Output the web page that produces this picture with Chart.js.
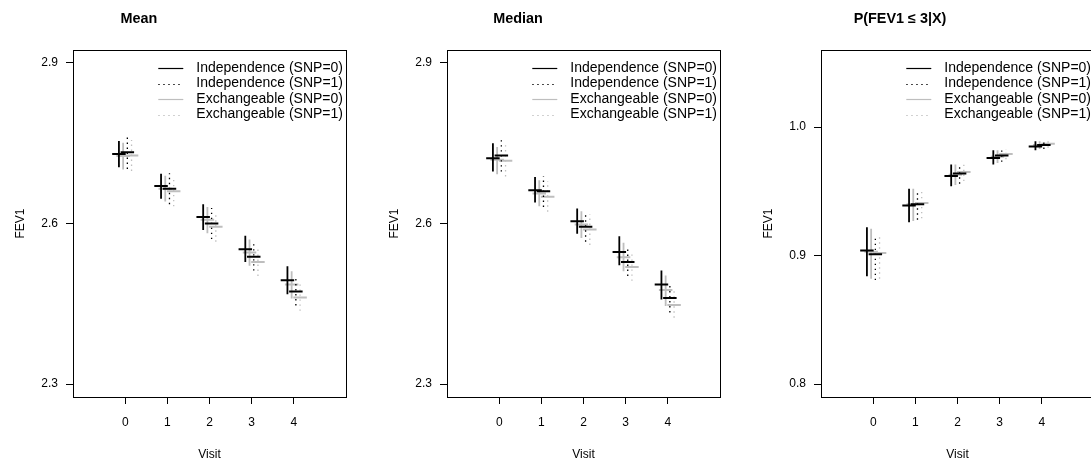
<!DOCTYPE html>
<html>
<head>
<meta charset="utf-8">
<script src="https://cdn.jsdelivr.net/npm/chart.js@4.4.1/dist/chart.umd.min.js"></script>
<style>
  html, body { margin: 0; padding: 0; background: #fff; }
  #wrap { position: relative; width: 1091px; height: 464px; overflow: hidden; background: #fff; }
  .panel { position: absolute; top: 0; width: 374px; height: 464px; }
</style>
</head>
<body>
<div id="wrap">
  <div class="panel" style="left:0px"><canvas id="pMean" width="374" height="464"></canvas></div>
  <div class="panel" style="left:374px"><canvas id="pMedian" width="374" height="464"></canvas></div>
  <div class="panel" style="left:748px"><canvas id="pProb" width="374" height="464"></canvas></div>
</div>
<script>
// ---- data ----
const visits = [0, 1, 2, 3, 4];
const seriesNames = ['Independence (SNP=0)', 'Independence (SNP=1)', 'Exchangeable (SNP=0)', 'Exchangeable (SNP=1)'];

// Mean FEV1: estimate with lower / upper limits
const meanIndep0 = [2.730, 2.670, 2.612, 2.552, 2.494];
const meanIndep0Lo = [2.705, 2.646, 2.588, 2.528, 2.468];
const meanIndep0Hi = [2.754, 2.693, 2.636, 2.577, 2.520];
const meanIndep1 = [2.733, 2.665, 2.600, 2.538, 2.473];
const meanIndep1Lo = [2.702, 2.636, 2.571, 2.512, 2.447];
const meanIndep1Hi = [2.763, 2.694, 2.629, 2.564, 2.499];
const meanExch0 = [2.726, 2.665, 2.607, 2.546, 2.486];
const meanExch0Lo = [2.701, 2.641, 2.582, 2.521, 2.460];
const meanExch0Hi = [2.751, 2.689, 2.631, 2.570, 2.511];
const meanExch1 = [2.727, 2.660, 2.594, 2.528, 2.462];
const meanExch1Lo = [2.698, 2.632, 2.566, 2.502, 2.437];
const meanExch1Hi = [2.756, 2.688, 2.622, 2.555, 2.488];

// Median FEV1
const medIndep0 = [2.722, 2.662, 2.604, 2.547, 2.486];
const medIndep0Lo = [2.697, 2.639, 2.581, 2.522, 2.458];
const medIndep0Hi = [2.750, 2.687, 2.628, 2.576, 2.512];
const medIndep1 = [2.727, 2.660, 2.594, 2.528, 2.461];
const medIndep1Lo = [2.697, 2.631, 2.566, 2.502, 2.434];
const medIndep1Hi = [2.757, 2.688, 2.622, 2.556, 2.485];
const medExch0 = [2.719, 2.656, 2.598, 2.537, 2.476];
const medExch0Lo = [2.692, 2.632, 2.573, 2.511, 2.446];
const medExch0Hi = [2.743, 2.681, 2.623, 2.564, 2.503];
const medExch1 = [2.717, 2.650, 2.589, 2.519, 2.448];
const medExch1Lo = [2.688, 2.622, 2.560, 2.493, 2.424];
const medExch1Hi = [2.746, 2.679, 2.617, 2.546, 2.474];

// P(FEV1 <= 3 | X)
const probIndep0 = [0.904, 0.939, 0.962, 0.976, 0.985];
const probIndep0Lo = [0.884, 0.926, 0.954, 0.971, 0.982];
const probIndep0Hi = [0.922, 0.952, 0.971, 0.982, 0.989];
const probIndep1 = [0.901, 0.940, 0.964, 0.978, 0.986];
const probIndep1Lo = [0.881, 0.928, 0.956, 0.973, 0.983];
const probIndep1Hi = [0.916, 0.951, 0.970, 0.982, 0.989];
const probExch0 = [0.903, 0.940, 0.963, 0.977, 0.986];
const probExch0Lo = [0.882, 0.927, 0.955, 0.972, 0.983];
const probExch0Hi = [0.921, 0.952, 0.971, 0.982, 0.989];
const probExch1 = [0.902, 0.941, 0.965, 0.979, 0.987];
const probExch1Lo = [0.882, 0.929, 0.958, 0.975, 0.984];
const probExch1Hi = [0.917, 0.952, 0.971, 0.983, 0.990];

const fevTicks = [2.3, 2.6, 2.9];
const probTicks = [0.8, 0.9, 1.0];

// ---- styling ----
const FONT = '"Liberation Sans", Arial, Helvetica, sans-serif';
const GREY = '#bebebe';
const DOT = [1.4, 3.6];
// horizontal position of each series around its visit
const seriesStyle = [
  { color: '#000', dash: [],  offset: -0.15 },  // Independence SNP=0
  { color: '#000', dash: DOT, offset: 0.05 },   // Independence SNP=1
  { color: GREY,   dash: [],  offset: -0.05 },  // Exchangeable SNP=0
  { color: GREY,   dash: DOT, offset: 0.15 }    // Exchangeable SNP=1
];
const HALF_TICK = 0.16;

function buildDatasets(series) {
  const ds = [];
  series.forEach((s, i) => {
    const st = seriesStyle[i];
    const ci = [], est = [];
    visits.forEach((v, k) => {
      const x = v + st.offset;
      ci.push({ x: x, y: s.lo[k] }, { x: x, y: s.hi[k] }, { x: x, y: null });
      est.push({ x: x - HALF_TICK, y: s.est[k] }, { x: x + HALF_TICK, y: s.est[k] }, { x: x, y: null });
    });
    ds.push({
      label: seriesNames[i], data: ci, showLine: true, spanGaps: false,
      borderColor: st.color, borderDash: st.dash, borderWidth: st.dash.length ? 1.3 : 1.8,
      borderCapStyle: 'butt', pointRadius: 0, pointHoverRadius: 0, fill: false
    });
    ds.push({
      label: seriesNames[i] + ' estimate', data: est, showLine: true, spanGaps: false,
      borderColor: st.color, borderWidth: 2, borderCapStyle: 'butt',
      pointRadius: 0, pointHoverRadius: 0, fill: false
    });
  });
  return ds;
}

// Closed frame around the plotting region
const frame = {
  id: 'frame',
  afterDraw(chart) {
    const { ctx, chartArea: a } = chart;
    ctx.save();
    ctx.strokeStyle = '#000';
    ctx.lineWidth = 1;
    ctx.strokeRect(Math.round(a.left) + 0.5, Math.round(a.top) + 0.5,
                   Math.round(a.right - a.left), Math.round(a.bottom - a.top));
    ctx.restore();
  }
};

// Panel heading
const heading = {
  id: 'heading',
  afterDraw(chart, args, opts) {
    const ctx = chart.ctx;
    ctx.save();
    ctx.fillStyle = '#000';
    ctx.font = 'bold 14.4px ' + FONT;
    ctx.textAlign = 'center';
    ctx.textBaseline = 'middle';
    ctx.fillText(opts.text, opts.x, opts.y);
    ctx.restore();
  }
};

// Borderless key in the top-right corner of the plotting region
const key = {
  id: 'key',
  afterDraw(chart, args, opts) {
    const { ctx, chartArea: a } = chart;
    const sets = chart.data.datasets.filter((d, i) => i % 2 === 0);
    ctx.save();
    ctx.font = opts.size + 'px ' + FONT;
    const maxW = Math.max(...sets.map(d => ctx.measureText(d.label).width));
    const textX = a.right - opts.rightGap - maxW;
    sets.forEach((d, i) => {
      const y = a.top + opts.firstRow + i * opts.rowGap;
      ctx.strokeStyle = d.borderColor;
      ctx.lineWidth = 1.2;
      ctx.setLineDash(d.borderDash);
      ctx.beginPath();
      ctx.moveTo(textX - opts.gap - opts.segLen, Math.round(y) + 0.5);
      ctx.lineTo(textX - opts.gap, Math.round(y) + 0.5);
      ctx.stroke();
      ctx.setLineDash([]);
      ctx.fillStyle = '#000';
      ctx.textAlign = 'left';
      ctx.textBaseline = 'middle';
      ctx.fillText(d.label, textX, y);
    });
    ctx.restore();
  }
};

function makePanel(id, title, titleX, series, yMin, yMax, yTicks, yDigits) {
  new Chart(document.getElementById(id), {
    type: 'scatter',
    data: { datasets: buildDatasets(series) },
    options: {
      responsive: false,
      animation: false,
      events: [],
      layout: { padding: { top: 50, right: 28, left: 0, bottom: 0 } },
      plugins: {
        legend: { display: false },
        tooltip: { enabled: false },
        heading: { text: title, x: titleX, y: 19 },
        key: { size: 14, firstRow: 18, rowGap: 15.5, gap: 13, segLen: 25, rightGap: 3 }
      },
      scales: {
        x: {
          type: 'linear', min: -1.24, max: 5.24,
          afterBuildTicks: s => { s.ticks = visits.map(v => ({ value: v })); },
          afterFit: s => { s.height = 67; },
          ticks: { color: '#000', font: { family: FONT, size: 12 }, padding: 11,
                   callback: v => String(v) },
          grid: { drawOnChartArea: false, drawTicks: true, tickLength: 7, color: '#000', lineWidth: 1 },
          border: { display: true, color: '#000', width: 1 },
          title: { display: true, text: 'Visit', color: '#000', font: { family: FONT, size: 12 },
                   padding: { top: 0, bottom: 2 } }
        },
        y: {
          type: 'linear', min: yMin, max: yMax,
          afterBuildTicks: s => { s.ticks = yTicks.map(v => ({ value: v })); },
          afterFit: s => { s.width = 73; },
          ticks: { color: '#000', font: { family: FONT, size: 12 }, padding: 8,
                   callback: v => Number(v).toFixed(yDigits) },
          grid: { drawOnChartArea: false, drawTicks: true, tickLength: 7, color: '#000', lineWidth: 1 },
          border: { display: true, color: '#000', width: 1 },
          title: { display: true, text: 'FEV1', color: '#000', font: { family: FONT, size: 12 },
                   padding: { top: 13, bottom: 0 } }
        }
      }
    },
    plugins: [frame, heading, key]
  });
}

makePanel('pMean', 'Mean', 139, [
  { est: meanIndep0, lo: meanIndep0Lo, hi: meanIndep0Hi },
  { est: meanIndep1, lo: meanIndep1Lo, hi: meanIndep1Hi },
  { est: meanExch0,  lo: meanExch0Lo,  hi: meanExch0Hi },
  { est: meanExch1,  lo: meanExch1Lo,  hi: meanExch1Hi }
], 2.276, 2.924, fevTicks, 1);

makePanel('pMedian', 'Median', 144, [
  { est: medIndep0, lo: medIndep0Lo, hi: medIndep0Hi },
  { est: medIndep1, lo: medIndep1Lo, hi: medIndep1Hi },
  { est: medExch0,  lo: medExch0Lo,  hi: medExch0Hi },
  { est: medExch1,  lo: medExch1Lo,  hi: medExch1Hi }
], 2.276, 2.924, fevTicks, 1);

makePanel('pProb', 'P(FEV1 \u2264 3|X)', 152, [
  { est: probIndep0, lo: probIndep0Lo, hi: probIndep0Hi },
  { est: probIndep1, lo: probIndep1Lo, hi: probIndep1Hi },
  { est: probExch0,  lo: probExch0Lo,  hi: probExch0Hi },
  { est: probExch1,  lo: probExch1Lo,  hi: probExch1Hi }
], 0.79, 1.06, probTicks, 1);
</script>
</body>
</html>
